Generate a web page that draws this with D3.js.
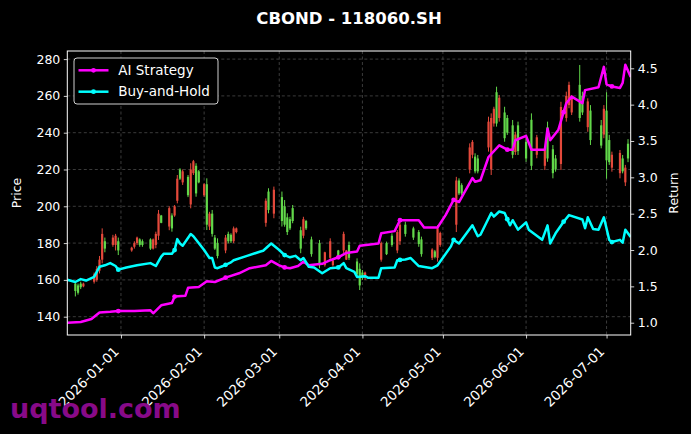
<!DOCTYPE html>
<html>
<head>
<meta charset="utf-8">
<script src="https://cdn.jsdelivr.net/npm/d3@7"></script>
<style>
  body { margin: 0; background: #000; }
  svg text { font-family: "DejaVu Sans", sans-serif; }
</style>
</head>
<body>
<div id="chart"></div>
<script>
// CBOND - 118060.SH — candles on the price axis, strategy returns on a twin axis
const candleDates = [
  "2025-12-15","2025-12-16","2025-12-17","2025-12-18","2025-12-22","2025-12-23","2025-12-24","2025-12-25","2025-12-26","2025-12-29",
  "2025-12-30","2025-12-31","2026-01-05","2026-01-06","2026-01-07","2026-01-08","2026-01-09","2026-01-12","2026-01-13","2026-01-14",
  "2026-01-15","2026-01-16","2026-01-19","2026-01-20","2026-01-21","2026-01-22","2026-01-23","2026-01-24","2026-01-26","2026-01-27",
  "2026-01-28","2026-01-29","2026-01-30","2026-02-01","2026-02-02","2026-02-03","2026-02-04","2026-02-05","2026-02-06","2026-02-09",
  "2026-02-10","2026-02-11","2026-02-12","2026-02-13","2026-02-24","2026-02-25","2026-02-27","2026-03-02","2026-03-03","2026-03-04",
  "2026-03-05","2026-03-06","2026-03-09","2026-03-10","2026-03-11","2026-03-13","2026-03-16","2026-03-18","2026-03-20","2026-03-21",
  "2026-03-23","2026-03-25","2026-03-26","2026-03-27","2026-03-30","2026-03-31","2026-04-01","2026-04-02","2026-04-08","2026-04-10",
  "2026-04-12","2026-04-14","2026-04-15","2026-04-17","2026-04-20","2026-04-22","2026-04-23","2026-04-27","2026-04-28","2026-04-29",
  "2026-04-30","2026-05-06","2026-05-07","2026-05-08","2026-05-11","2026-05-12","2026-05-13","2026-05-14","2026-05-18","2026-05-19",
  "2026-05-20","2026-05-21","2026-05-22","2026-05-24","2026-05-25","2026-05-27","2026-05-28","2026-05-29","2026-06-01","2026-06-03",
  "2026-06-05","2026-06-08","2026-06-09","2026-06-11","2026-06-12","2026-06-14","2026-06-16","2026-06-17","2026-06-18","2026-06-21",
  "2026-06-22","2026-06-24","2026-06-25","2026-06-29","2026-06-30","2026-07-01","2026-07-02","2026-07-03","2026-07-06","2026-07-07",
  "2026-07-08","2026-07-09"
];
const candleOpen = [
  154,153,156,158,163,166,171,185,177,183, 184,176,177.5,180,183,179,179,177,182,185,
  196,191,199,188,200,215,215,219,206,220, 224.5,207,213,212,190,196,185,177,173,183,
  181,181,188,188,203,198,209,192,190,186, 188,192,177,193,188,174,168,175,181,170.5,
  172,185,176,172,163,157,161,164,180,174, 179,186,190,185,183,179.5,174,176.5,172.5,188,
  185.5,214,207,207,232,235,219,219,246,248, 253,245,259,237,240,228,239,230,226,222,
  237.5,231,226,218,220,254,260,266,259,248, 251,257,236,233,253,225,224,228,229,219,
  221,226
];
const candleHigh = [
  159,158,159,158.5,164,167.5,173,188,183,184.5, 185,183,178,181,183.5,182.6,182,182.6,182.5,186.2,
  198,195.3,200,196.2,200.7,217,220.7,220,217,223.4, 225.2,223.4,219.7,212.5,215.2,197,198,184.4,182.6,184.4,
  186.2,185.3,189,188.5,204.3,209.8,210.7,208,203.4,196.2, 194.3,200.7,188.9,194.3,192.6,183.5,181.7,175.3,182.6,170.8,
  176.3,186.2,176.3,180.8,171.7,169,165.4,164.5,180.8,180.8, 185.3,187.1,191.6,191.6,188.9,187.1,183.5,177.2,176.3,189.8,
  186.2,216,215.2,212.5,234.2,236,228.8,227.9,248.7,250.5, 254.1,265,260.5,254.1,249.6,246.9,240.5,246,237,250.5,
  238.8,232.4,246,233.3,227.9,256.8,262.3,267.7,260.5,276.8, 262.3,258.7,255,246.9,255,262,238.8,229.7,230.6,227.9,
  222.5,236.5
];
const candleLow = [
  151,152,155,156,158,159,163.5,169,175,178, 176,173.5,175.3,177,179,178,178,176.3,176.5,177.2,
  181.7,190.8,187,186.2,194.3,201.6,214.3,211.6,205,198.9, 217,205.2,212.5,205.2,187.1,187.1,183.5,176.3,171.7,174.5,
  179.9,180,180,185.3,188.9,196.2,193.5,189,188.9,184.4, 187.1,190.8,174.5,182.6,187.1,172.6,166.3,167.2,170.8,167.2,
  171.7,174.5,170.8,170.8,161.7,154.5,160,160,169.9,173.5, 178,174.5,179,183.5,181.7,178,172.6,170.8,171.7,169.9,
  178,186,206.1,206.1,217.9,226.1,217.9,217.9,229.7,217, 243.3,243.3,246,235.1,238.8,226.1,227.9,227.9,224.2,219.7,
  226.1,219.7,224.2,215.2,218.8,219.7,246,253.3,249.6,246, 249.6,240.5,233.3,231.5,237,215,222.5,218.8,215.2,217.9,
  211,224
];
const candleClose = [
  158,157,158,156.5,159,160,165,171,181,179, 179,181,176,178,180,182,181,182,177,179,
  184,195,189,195,195,203,220,213,216,201, 218,222,219,206,212,189,196,183,180,176,
  185,184.5,181,186,191,208,196,205,200,194, 193,199,187,184,192,182,180,168,172,168,
  176,176,171,179,170,166,164,161,171,180, 184,176,181,190,188,186,182,172,175.5,172,
  179,190,214,211.5,220,228,227,226,232,220, 245,262,248,251,248,244,229.5,244,235,247,
  228,222,243,231,226,223,248,255,251,266, 260,243,252,244,239,252,236,221,218,226,
  213,234
];

const aiDates = [
  "2025-12-12","2025-12-17","2025-12-21","2025-12-24","2025-12-28","2025-12-31","2026-01-06","2026-01-12","2026-01-13","2026-01-16",
  "2026-01-20","2026-01-21","2026-01-25","2026-01-26","2026-01-30","2026-02-02","2026-02-05","2026-02-09","2026-02-14","2026-02-18",
  "2026-02-24","2026-02-26","2026-03-01","2026-03-03","2026-03-05","2026-03-08","2026-03-10","2026-03-12","2026-03-17","2026-03-20",
  "2026-03-23","2026-03-26","2026-03-30","2026-03-31","2026-04-07","2026-04-08","2026-04-13","2026-04-15","2026-04-22","2026-04-24",
  "2026-04-29","2026-05-02","2026-05-05","2026-05-07","2026-05-12","2026-05-13","2026-05-15","2026-05-18","2026-05-22","2026-05-25",
  "2026-05-27","2026-05-28","2026-06-01","2026-06-03","2026-06-08","2026-06-09","2026-06-10","2026-06-13","2026-06-16","2026-06-18",
  "2026-06-22","2026-06-23","2026-06-28","2026-06-30","2026-07-01","2026-07-03","2026-07-06","2026-07-07","2026-07-08","2026-07-10"
];
const aiReturn = [
  1.00,1.01,1.05,1.14,1.15,1.16,1.16,1.17,1.13,1.24,
  1.27,1.36,1.37,1.48,1.49,1.57,1.56,1.62,1.68,1.75,
  1.79,1.85,1.79,1.76,1.75,1.78,1.84,1.79,1.81,1.86,
  1.90,1.96,1.98,2.06,2.09,2.23,2.26,2.41,2.41,2.31,
  2.31,2.48,2.69,2.66,2.99,2.94,2.96,3.28,3.44,3.38,
  3.38,3.51,3.57,3.38,3.38,3.67,3.51,3.65,4.02,4.11,
  4.02,4.20,4.24,4.52,4.28,4.25,4.23,4.30,4.55,4.38
];

const bhDates = [
  "2025-12-12","2025-12-15","2025-12-17","2025-12-19","2025-12-22","2025-12-24","2025-12-26","2025-12-28","2025-12-30","2025-12-31",
  "2026-01-03","2026-01-07","2026-01-12","2026-01-14","2026-01-16","2026-01-17","2026-01-20","2026-01-21","2026-01-22","2026-01-23",
  "2026-01-24","2026-01-27","2026-01-28","2026-02-01","2026-02-03","2026-02-04","2026-02-05","2026-02-06","2026-02-08","2026-02-11",
  "2026-02-12","2026-02-17","2026-02-22","2026-02-23","2026-02-26","2026-03-01","2026-03-03","2026-03-05","2026-03-07","2026-03-09",
  "2026-03-10","2026-03-12","2026-03-14","2026-03-17","2026-03-20","2026-03-23","2026-03-25","2026-03-26","2026-03-29","2026-03-30",
  "2026-04-02","2026-04-03","2026-04-07","2026-04-08","2026-04-13","2026-04-14","2026-04-17","2026-04-19","2026-04-22","2026-04-27",
  "2026-04-29","2026-05-04","2026-05-05","2026-05-07","2026-05-12","2026-05-14","2026-05-15","2026-05-19","2026-05-20","2026-05-22",
  "2026-05-24","2026-05-26","2026-05-27","2026-05-29","2026-06-01","2026-06-02","2026-06-07","2026-06-09","2026-06-10","2026-06-12",
  "2026-06-15","2026-06-17","2026-06-22","2026-06-23","2026-06-24","2026-06-26","2026-06-28","2026-06-30","2026-07-02","2026-07-03",
  "2026-07-06","2026-07-07","2026-07-08","2026-07-10"
];
const bhReturn = [
  1.59,1.56,1.60,1.58,1.63,1.77,1.79,1.82,1.78,1.73,
  1.76,1.79,1.82,1.78,1.91,1.95,1.95,2.00,2.15,2.09,
  2.06,2.22,2.19,2.00,1.89,1.89,1.76,1.75,1.78,1.83,
  1.86,1.92,1.98,1.99,2.09,2.00,1.93,1.90,1.92,1.86,
  1.89,1.77,1.76,1.68,1.75,1.76,1.82,1.75,1.70,1.63,
  1.64,1.62,1.62,1.75,1.76,1.86,1.87,1.89,1.78,1.75,
  1.79,2.05,2.14,2.09,2.34,2.19,2.21,2.51,2.46,2.53,
  2.51,2.34,2.41,2.28,2.38,2.28,2.14,2.34,2.09,2.23,
  2.39,2.48,2.42,2.30,2.45,2.29,2.28,2.45,2.14,2.11,
  2.14,2.10,2.28,2.18
];

const markerDates = ["2025-12-31","2026-01-21","2026-02-09","2026-03-03","2026-03-23","2026-04-15","2026-05-05","2026-05-25","2026-06-15","2026-07-03"];

const priceTicks = [140, 160, 180, 200, 220, 240, 260, 280];
const returnTicks = [1.0, 1.5, 2.0, 2.5, 3.0, 3.5, 4.0, 4.5];
const monthTicks = ["2026-01-01","2026-02-01","2026-03-01","2026-04-01","2026-05-01","2026-06-01","2026-07-01"];

const W = 691, H = 434;
const plot = { left: 67.3, right: 630.7, top: 51, bottom: 335 };
const UP = "#62d84a", DOWN = "#e4493b", AI_COLOR = "#ff00ff", BH_COLOR = "#00ffff";
const parse = d3.timeParse("%Y-%m-%d");

const svg = d3.select("#chart").append("svg")
  .attr("width", W).attr("height", H)
  .style("background", "#000");

const x = d3.scaleTime()
  .domain([parse("2025-12-12"), parse("2026-07-10")])
  .range([plot.left, plot.right]);
const yPrice = d3.scaleLinear().domain([130.05, 284.4]).range([plot.bottom, plot.top]);
const yRet = d3.scaleLinear().domain([0.831, 4.738]).range([plot.bottom, plot.top]);

svg.append("clipPath").attr("id", "plot-clip").append("rect")
  .attr("x", plot.left).attr("y", plot.top)
  .attr("width", plot.right - plot.left).attr("height", plot.bottom - plot.top);

// grid
const grid = svg.append("g").attr("stroke", "#4a4a4a").attr("stroke-width", 0.8).attr("stroke-dasharray", "3,2.5");
grid.selectAll(".gx").data(monthTicks).join("line")
  .attr("x1", d => x(parse(d))).attr("x2", d => x(parse(d)))
  .attr("y1", plot.top).attr("y2", plot.bottom);
grid.selectAll(".gy").data(priceTicks).join("line")
  .attr("x1", plot.left).attr("x2", plot.right)
  .attr("y1", d => yPrice(d)).attr("y2", d => yPrice(d));

// candles
const candles = candleDates.map((d, i) => ({
  date: parse(d), o: candleOpen[i], h: candleHigh[i], l: candleLow[i], c: candleClose[i]
}));
const cg = svg.append("g").attr("clip-path", "url(#plot-clip)");
const bodyW = 2.2;
cg.selectAll(".wick").data(candles).join("line")
  .attr("x1", d => x(d.date)).attr("x2", d => x(d.date))
  .attr("y1", d => yPrice(d.h)).attr("y2", d => yPrice(d.l))
  .attr("stroke", d => d.c >= d.o ? UP : DOWN).attr("stroke-width", 1);
cg.selectAll(".body").data(candles).join("rect")
  .attr("x", d => x(d.date) - bodyW / 2)
  .attr("y", d => yPrice(Math.max(d.o, d.c)))
  .attr("width", bodyW)
  .attr("height", d => Math.max(1, Math.abs(yPrice(d.o) - yPrice(d.c))))
  .attr("fill", d => d.c >= d.o ? UP : DOWN);

// return lines
function series(dates, vals) { return dates.map((d, i) => ({ date: parse(d), v: vals[i] })); }
const aiSeries = series(aiDates, aiReturn);
const bhSeries = series(bhDates, bhReturn);
const line = d3.line().x(d => x(d.date)).y(d => yRet(d.v));
const bisect = d3.bisector(d => d.date).left;
function valueAt(s, date) {
  const i = bisect(s, date);
  if (i <= 0) return s[0].v;
  if (i >= s.length) return s[s.length - 1].v;
  const a = s[i - 1], b = s[i];
  const t = (date - a.date) / (b.date - a.date);
  return a.v + (b.v - a.v) * t;
}
const lg = svg.append("g").attr("clip-path", "url(#plot-clip)");
[[aiSeries, AI_COLOR], [bhSeries, BH_COLOR]].forEach(([s, col]) => {
  lg.append("path").datum(s)
    .attr("d", line).attr("fill", "none")
    .attr("stroke", col).attr("stroke-width", 2.5).attr("stroke-linejoin", "round");
  lg.selectAll(null).data(markerDates).join("circle")
    .attr("cx", d => x(parse(d))).attr("cy", d => yRet(valueAt(s, parse(d))))
    .attr("r", 2.4).attr("fill", col);
});

// axes
const tickFont = "12.5px";
const axL = svg.append("g").attr("transform", `translate(${plot.left},0)`)
  .call(d3.axisLeft(yPrice).tickValues(priceTicks).tickSize(3.5).tickPadding(3.5).tickFormat(d3.format("d")));
const axR = svg.append("g").attr("transform", `translate(${plot.right},0)`)
  .call(d3.axisRight(yRet).tickValues(returnTicks).tickSize(3.5).tickPadding(3.5).tickFormat(d3.format(".1f")));
const axB = svg.append("g").attr("transform", `translate(0,${plot.bottom})`)
  .call(d3.axisBottom(x).tickValues(monthTicks.map(parse)).tickSize(3.5).tickFormat(d3.timeFormat("%Y-%m-%d")));
[axL, axR, axB].forEach(a => {
  a.select(".domain").remove();
  a.selectAll(".tick line").attr("stroke", "#fff").attr("stroke-width", 0.8);
  a.selectAll("text").attr("fill", "#fff").style("font-size", tickFont).style("font-family", "DejaVu Sans");
});
axB.selectAll("text")
  .style("font-size", "13.5px")
  .attr("text-anchor", "end")
  .attr("dy", "0.35em")
  .attr("transform", "translate(-5,14) rotate(-45)")
  .attr("y", 0).attr("x", 0);

// spines
svg.append("rect")
  .attr("x", plot.left).attr("y", plot.top)
  .attr("width", plot.right - plot.left).attr("height", plot.bottom - plot.top)
  .attr("fill", "none").attr("stroke", "#fff").attr("stroke-width", 1);

// labels
svg.append("text")
  .attr("x", (plot.left + plot.right) / 2).attr("y", 24)
  .attr("text-anchor", "middle").attr("fill", "#fff")
  .style("font-size", "16.5px").style("font-weight", "bold")
  .text("CBOND - 118060.SH");
svg.append("text")
  .attr("transform", `translate(21,${(plot.top + plot.bottom) / 2}) rotate(-90)`)
  .attr("text-anchor", "middle").attr("fill", "#fff").style("font-size", tickFont)
  .text("Price");
svg.append("text")
  .attr("transform", `translate(678,${(plot.top + plot.bottom) / 2}) rotate(-90)`)
  .attr("text-anchor", "middle").attr("fill", "#fff").style("font-size", tickFont)
  .text("Return");

// legend
const leg = svg.append("g");
leg.append("rect")
  .attr("x", 74).attr("y", 58).attr("width", 144).attr("height", 46).attr("rx", 3)
  .attr("fill", "#000").attr("stroke", "#cfcfcf").attr("stroke-width", 1);
const legendItems = [["AI Strategy", AI_COLOR], ["Buy-and-Hold", BH_COLOR]];
legendItems.forEach(([name, col], i) => {
  const yy = 70.3 + i * 21.4;
  leg.append("line").attr("x1", 78.5).attr("x2", 108.5).attr("y1", yy).attr("y2", yy)
    .attr("stroke", col).attr("stroke-width", 2.5);
  leg.append("circle").attr("cx", 93.5).attr("cy", yy).attr("r", 2.4).attr("fill", col);
  leg.append("text").attr("x", 118.3).attr("y", yy).attr("dy", "0.35em")
    .attr("fill", "#fff").style("font-size", "13.5px").text(name);
});

// watermark
svg.append("text")
  .attr("x", 10).attr("y", 418)
  .attr("fill", "#880a88").style("font-size", "27px").style("font-weight", "bold")
  .text("uqtool.com");
</script>
</body>
</html>
